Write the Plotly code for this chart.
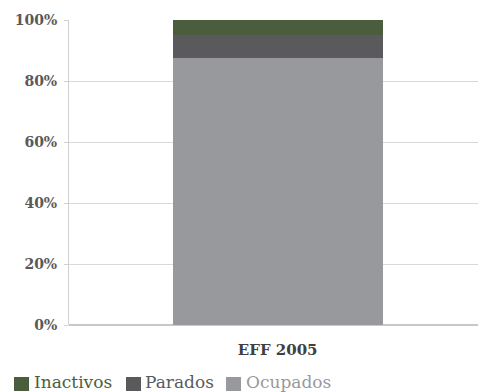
import plotly.graph_objects as go

# Distribution of the population by labour status (percent)
categories = ["EFF 2005"]
ocupados = [87.6]
parados = [7.5]
inactivos = [4.9]

series_names = ["Ocupados", "Parados", "Inactivos"]
series_values = [ocupados, parados, inactivos]
series_colors = ["#98999c", "#5a5a5c", "#4a5e3e"]

y_ticks = [0, 20, 40, 60, 80, 100]
y_tick_labels = ["0%", "20%", "40%", "60%", "80%", "100%"]

W, H = 478, 392
M = dict(l=69, r=0, t=20, b=67)
plot_w = W - M["l"] - M["r"]
plot_h = H - M["t"] - M["b"]


def px_x(px):
    return (px - M["l"]) / plot_w


def px_y(py):
    return (H - M["b"] - py) / plot_h


fig = go.Figure()
for name, vals, col in zip(series_names, series_values, series_colors):
    fig.add_trace(go.Bar(
        x=categories,
        y=vals,
        name=name,
        marker=dict(color=col, line=dict(width=0)),
        width=0.503,
        showlegend=False,
    ))

font_family = "DejaVu Serif"

# Legend drawn as coloured squares with text in the series colour
legend_items = [("Inactivos", 14, 32), ("Parados", 126, 143), ("Ocupados", 226, 244)]
color_of = dict(zip(series_names, series_colors))
for label, sq_x, txt_x in legend_items:
    col = color_of[label]
    fig.add_shape(
        type="rect", xref="paper", yref="paper",
        x0=px_x(sq_x), x1=px_x(sq_x + 15),
        y0=px_y(391), y1=px_y(377),
        fillcolor=col, line=dict(width=0),
    )
    fig.add_annotation(
        x=px_x(txt_x), y=px_y(382), xref="paper", yref="paper",
        xanchor="left", yanchor="middle", showarrow=False,
        text=label,
        font=dict(family=font_family, size=17, color=col),
    )

fig.update_layout(
    barmode="stack",
    width=W,
    height=H,
    margin=dict(**M, autoexpand=False),
    paper_bgcolor="white",
    plot_bgcolor="white",
    font=dict(family=font_family, size=14, color="#595959"),
    showlegend=False,
    xaxis=dict(
        range=[-0.5, 0.48],
        showgrid=False,
        showline=False,
        ticks="",
        ticklabelstandoff=14,
        tickfont=dict(family=font_family, size=15, color="#404040", weight="bold"),
    ),
    yaxis=dict(
        range=[0, 100],
        tickvals=y_ticks,
        ticktext=y_tick_labels,
        showgrid=True,
        gridcolor="#d9d9d9",
        gridwidth=1,
        showline=True,
        linecolor="#d0d0d0",
        linewidth=1,
        ticks="outside",
        ticklen=4,
        tickcolor="#d0d0d0",
        ticklabelstandoff=4,
        zeroline=True,
        zerolinecolor="#c8c8c8",
        zerolinewidth=2,
        tickfont=dict(family=font_family, size=14, color="#595959", weight="bold"),
    ),
)

fig.write_html("out.html")
